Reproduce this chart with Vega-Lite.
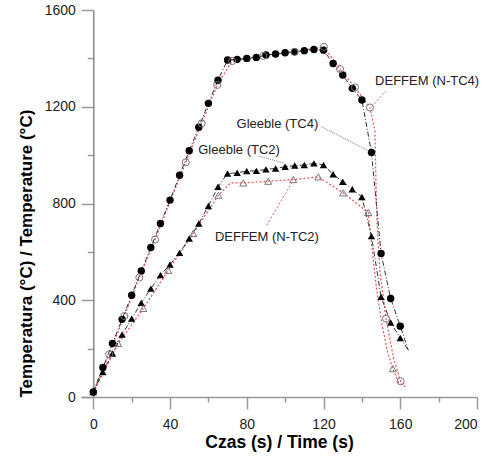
{
  "$schema": "https://vega.github.io/schema/vega-lite/v6.json",
  "width": 396,
  "height": 387,
  "autosize": {"type": "none"},
  "padding": {"left": 81, "top": 10, "right": 13, "bottom": 62},
  "background": "white",
  "config": {"view": {"stroke": null}, "font": "Liberation Sans"},
  "datasets": {
    "series": [
      {"model": "Gleeble", "probe": "TC4", "t": 0, "T": 21, "marker": true},
      {"model": "Gleeble", "probe": "TC4", "t": 5, "T": 122, "marker": true},
      {"model": "Gleeble", "probe": "TC4", "t": 10, "T": 221, "marker": true},
      {"model": "Gleeble", "probe": "TC4", "t": 15, "T": 321, "marker": true},
      {"model": "Gleeble", "probe": "TC4", "t": 20, "T": 421, "marker": true},
      {"model": "Gleeble", "probe": "TC4", "t": 25, "T": 521, "marker": true},
      {"model": "Gleeble", "probe": "TC4", "t": 30, "T": 618, "marker": true},
      {"model": "Gleeble", "probe": "TC4", "t": 35, "T": 717, "marker": true},
      {"model": "Gleeble", "probe": "TC4", "t": 40, "T": 814, "marker": true},
      {"model": "Gleeble", "probe": "TC4", "t": 45, "T": 917, "marker": true},
      {"model": "Gleeble", "probe": "TC4", "t": 50, "T": 1018, "marker": true},
      {"model": "Gleeble", "probe": "TC4", "t": 55, "T": 1115, "marker": true},
      {"model": "Gleeble", "probe": "TC4", "t": 60, "T": 1214, "marker": true},
      {"model": "Gleeble", "probe": "TC4", "t": 65, "T": 1310, "marker": true},
      {"model": "Gleeble", "probe": "TC4", "t": 70, "T": 1393, "marker": true},
      {"model": "Gleeble", "probe": "TC4", "t": 75, "T": 1396, "marker": true},
      {"model": "Gleeble", "probe": "TC4", "t": 80, "T": 1400, "marker": true},
      {"model": "Gleeble", "probe": "TC4", "t": 85, "T": 1404, "marker": true},
      {"model": "Gleeble", "probe": "TC4", "t": 90, "T": 1414, "marker": true},
      {"model": "Gleeble", "probe": "TC4", "t": 95, "T": 1418, "marker": true},
      {"model": "Gleeble", "probe": "TC4", "t": 100, "T": 1423, "marker": true},
      {"model": "Gleeble", "probe": "TC4", "t": 105, "T": 1427, "marker": true},
      {"model": "Gleeble", "probe": "TC4", "t": 110, "T": 1432, "marker": true},
      {"model": "Gleeble", "probe": "TC4", "t": 115, "T": 1437, "marker": true},
      {"model": "Gleeble", "probe": "TC4", "t": 120, "T": 1434, "marker": true},
      {"model": "Gleeble", "probe": "TC4", "t": 125, "T": 1379, "marker": true},
      {"model": "Gleeble", "probe": "TC4", "t": 130, "T": 1331, "marker": true},
      {"model": "Gleeble", "probe": "TC4", "t": 135, "T": 1276, "marker": true},
      {"model": "Gleeble", "probe": "TC4", "t": 140, "T": 1228, "marker": true},
      {"model": "Gleeble", "probe": "TC4", "t": 145, "T": 1011, "marker": true},
      {"model": "Gleeble", "probe": "TC4", "t": 150, "T": 593, "marker": true},
      {"model": "Gleeble", "probe": "TC4", "t": 155, "T": 407, "marker": true},
      {"model": "Gleeble", "probe": "TC4", "t": 160, "T": 293, "marker": true},
      {"model": "Gleeble", "probe": "TC4", "t": 164.2, "T": 193, "marker": false},
      {"model": "Gleeble", "probe": "TC2", "t": 0, "T": 20, "marker": true},
      {"model": "Gleeble", "probe": "TC2", "t": 5, "T": 103, "marker": true},
      {"model": "Gleeble", "probe": "TC2", "t": 10, "T": 180, "marker": true},
      {"model": "Gleeble", "probe": "TC2", "t": 15, "T": 258, "marker": true},
      {"model": "Gleeble", "probe": "TC2", "t": 20, "T": 324, "marker": true},
      {"model": "Gleeble", "probe": "TC2", "t": 25, "T": 389, "marker": true},
      {"model": "Gleeble", "probe": "TC2", "t": 30, "T": 448, "marker": true},
      {"model": "Gleeble", "probe": "TC2", "t": 35, "T": 504, "marker": true},
      {"model": "Gleeble", "probe": "TC2", "t": 40, "T": 548, "marker": true},
      {"model": "Gleeble", "probe": "TC2", "t": 45, "T": 596, "marker": true},
      {"model": "Gleeble", "probe": "TC2", "t": 50, "T": 655, "marker": true},
      {"model": "Gleeble", "probe": "TC2", "t": 55, "T": 717, "marker": true},
      {"model": "Gleeble", "probe": "TC2", "t": 60, "T": 790, "marker": true},
      {"model": "Gleeble", "probe": "TC2", "t": 65, "T": 869, "marker": true},
      {"model": "Gleeble", "probe": "TC2", "t": 70, "T": 924, "marker": true},
      {"model": "Gleeble", "probe": "TC2", "t": 75, "T": 927, "marker": true},
      {"model": "Gleeble", "probe": "TC2", "t": 80, "T": 934, "marker": true},
      {"model": "Gleeble", "probe": "TC2", "t": 85, "T": 935, "marker": true},
      {"model": "Gleeble", "probe": "TC2", "t": 90, "T": 941, "marker": true},
      {"model": "Gleeble", "probe": "TC2", "t": 95, "T": 945, "marker": true},
      {"model": "Gleeble", "probe": "TC2", "t": 100, "T": 952, "marker": true},
      {"model": "Gleeble", "probe": "TC2", "t": 105, "T": 957, "marker": true},
      {"model": "Gleeble", "probe": "TC2", "t": 110, "T": 959, "marker": true},
      {"model": "Gleeble", "probe": "TC2", "t": 115, "T": 966, "marker": true},
      {"model": "Gleeble", "probe": "TC2", "t": 120, "T": 959, "marker": true},
      {"model": "Gleeble", "probe": "TC2", "t": 125, "T": 921, "marker": true},
      {"model": "Gleeble", "probe": "TC2", "t": 130, "T": 890, "marker": true},
      {"model": "Gleeble", "probe": "TC2", "t": 135, "T": 859, "marker": true},
      {"model": "Gleeble", "probe": "TC2", "t": 140, "T": 827, "marker": true},
      {"model": "Gleeble", "probe": "TC2", "t": 145, "T": 665, "marker": true},
      {"model": "Gleeble", "probe": "TC2", "t": 150, "T": 414, "marker": true},
      {"model": "Gleeble", "probe": "TC2", "t": 155, "T": 308, "marker": true},
      {"model": "Gleeble", "probe": "TC2", "t": 160, "T": 244, "marker": true},
      {"model": "Gleeble", "probe": "TC2", "t": 164.2, "T": 193, "marker": false},
      {"model": "DEFFEM", "probe": "N-TC4", "t": 0, "T": 20, "marker": false},
      {"model": "DEFFEM", "probe": "N-TC4", "t": 8.3, "T": 177, "marker": true},
      {"model": "DEFFEM", "probe": "N-TC4", "t": 16.2, "T": 335, "marker": true},
      {"model": "DEFFEM", "probe": "N-TC4", "t": 24.0, "T": 494, "marker": true},
      {"model": "DEFFEM", "probe": "N-TC4", "t": 32.2, "T": 651, "marker": true},
      {"model": "DEFFEM", "probe": "N-TC4", "t": 48.2, "T": 970, "marker": true},
      {"model": "DEFFEM", "probe": "N-TC4", "t": 56.5, "T": 1131, "marker": true},
      {"model": "DEFFEM", "probe": "N-TC4", "t": 64.6, "T": 1290, "marker": true},
      {"model": "DEFFEM", "probe": "N-TC4", "t": 72.4, "T": 1389, "marker": true},
      {"model": "DEFFEM", "probe": "N-TC4", "t": 88.6, "T": 1410, "marker": true},
      {"model": "DEFFEM", "probe": "N-TC4", "t": 104.8, "T": 1427, "marker": true},
      {"model": "DEFFEM", "probe": "N-TC4", "t": 120.2, "T": 1448, "marker": true},
      {"model": "DEFFEM", "probe": "N-TC4", "t": 128.6, "T": 1356, "marker": true},
      {"model": "DEFFEM", "probe": "N-TC4", "t": 136.4, "T": 1280, "marker": true},
      {"model": "DEFFEM", "probe": "N-TC4", "t": 144.2, "T": 1197, "marker": true},
      {"model": "DEFFEM", "probe": "N-TC4", "t": 146.8, "T": 1100, "marker": false},
      {"model": "DEFFEM", "probe": "N-TC4", "t": 147.3, "T": 900, "marker": false},
      {"model": "DEFFEM", "probe": "N-TC4", "t": 148.0, "T": 700, "marker": false},
      {"model": "DEFFEM", "probe": "N-TC4", "t": 149.4, "T": 520, "marker": false},
      {"model": "DEFFEM", "probe": "N-TC4", "t": 152.6, "T": 324, "marker": true},
      {"model": "DEFFEM", "probe": "N-TC4", "t": 156.5, "T": 160, "marker": false},
      {"model": "DEFFEM", "probe": "N-TC4", "t": 160.2, "T": 65, "marker": true},
      {"model": "DEFFEM", "probe": "N-TC4", "t": 163.2, "T": 45, "marker": false},
      {"model": "DEFFEM", "probe": "N-TC2", "t": 0, "T": 20, "marker": false},
      {"model": "DEFFEM", "probe": "N-TC2", "t": 13.0, "T": 221, "marker": true},
      {"model": "DEFFEM", "probe": "N-TC2", "t": 26.1, "T": 366, "marker": true},
      {"model": "DEFFEM", "probe": "N-TC2", "t": 39.1, "T": 524, "marker": true},
      {"model": "DEFFEM", "probe": "N-TC2", "t": 52.1, "T": 676, "marker": true},
      {"model": "DEFFEM", "probe": "N-TC2", "t": 65.2, "T": 834, "marker": true},
      {"model": "DEFFEM", "probe": "N-TC2", "t": 71.5, "T": 885, "marker": false},
      {"model": "DEFFEM", "probe": "N-TC2", "t": 78.2, "T": 885, "marker": true},
      {"model": "DEFFEM", "probe": "N-TC2", "t": 91.2, "T": 892, "marker": true},
      {"model": "DEFFEM", "probe": "N-TC2", "t": 104.2, "T": 899, "marker": true},
      {"model": "DEFFEM", "probe": "N-TC2", "t": 117.3, "T": 910, "marker": true},
      {"model": "DEFFEM", "probe": "N-TC2", "t": 130.3, "T": 844, "marker": true},
      {"model": "DEFFEM", "probe": "N-TC2", "t": 143.3, "T": 763, "marker": true},
      {"model": "DEFFEM", "probe": "N-TC2", "t": 145.5, "T": 600, "marker": false},
      {"model": "DEFFEM", "probe": "N-TC2", "t": 147.6, "T": 450, "marker": false},
      {"model": "DEFFEM", "probe": "N-TC2", "t": 150.5, "T": 300, "marker": false},
      {"model": "DEFFEM", "probe": "N-TC2", "t": 153.3, "T": 190, "marker": false},
      {"model": "DEFFEM", "probe": "N-TC2", "t": 156.1, "T": 117, "marker": true},
      {"model": "DEFFEM", "probe": "N-TC2", "t": 159.0, "T": 62, "marker": false},
      {"model": "DEFFEM", "probe": "N-TC2", "t": 162.5, "T": 42, "marker": false}
    ],
    "labels": [
      {"text": "DEFFEM (N-TC4)", "t": 146.9, "T": 1306},
      {"text": "Gleeble (TC4)", "t": 74.7, "T": 1128},
      {"text": "Gleeble (TC2)", "t": 54.7, "T": 1022},
      {"text": "DEFFEM (N-TC2)", "t": 63.4, "T": 662}
    ],
    "leaders": [
      {"model": "DEFFEM", "t": 145.1, "T": 1200, "t2": 152.5, "T2": 1265},
      {"model": "DEFFEM", "t": 90.4, "T": 710, "t2": 104.2, "T2": 896},
      {"model": "Gleeble", "t": 119.0, "T": 1117, "t2": 145.1, "T2": 1011},
      {"model": "Gleeble", "t": 86.1, "T": 996, "t2": 99.4, "T2": 967}
    ]
  },
  "encoding": {
    "x": {
      "field": "t", "type": "quantitative",
      "scale": {"domain": [-6.4, 200], "nice": false, "zero": false},
      "axis": {
        "title": "Czas (s) / Time (s)",
        "values": [0, 20, 40, 60, 80, 100, 120, 140, 160, 180, 200],
        "labelExpr": "datum.value % 40 === 0 ? datum.label : ''",
        "tickSize": {"condition": {"test": "datum.value % 40 === 0", "value": 12}, "value": 5},
        "tickColor": "#999", "tickWidth": 1.5,
        "domainColor": "#999", "domainWidth": 1.5,
        "labelFontSize": 14, "labelColor": "#222", "labelPadding": 8,
        "labelFont": "Liberation Sans", "titleFont": "Liberation Sans",
        "titleFontSize": 17.5, "titleFontWeight": "bold", "titleColor": "#000",
        "titlePadding": 2, "grid": false
      }
    },
    "y": {
      "field": "T", "type": "quantitative",
      "scale": {"domain": [0, 1600], "nice": false, "zero": false},
      "axis": {
        "title": "Temperatura (°C) / Temperature (°C)",
        "values": [0, 200, 400, 600, 800, 1000, 1200, 1400, 1600],
        "format": "d",
        "labelExpr": "datum.value % 400 === 0 ? datum.label : ''",
        "tickSize": {"condition": {"test": "datum.value % 400 === 0", "value": 12}, "value": 6},
        "offset": -12.3,
        "tickColor": "#999", "tickWidth": 1.5,
        "domainColor": "#888", "domainWidth": 1.5,
        "labelFontSize": 14, "labelColor": "#222", "labelPadding": 6,
        "labelFont": "Liberation Sans", "titleFont": "Liberation Sans",
        "titleFontSize": 17, "titleFontWeight": "bold", "titleColor": "#000",
        "titleAnchor": "start", "titleBaseline": "alphabetic",
        "titleX": -62, "grid": false
      }
    }
  },
  "layer": [
    {
      "data": {"name": "series"},
      "transform": [{"filter": "datum.model === 'DEFFEM'"}],
      "mark": {"type": "line", "color": "#f05050", "strokeWidth": 1.2, "strokeDash": [2, 2]},
      "encoding": {"detail": {"field": "probe"}}
    },
    {
      "data": {"name": "series"},
      "transform": [{"filter": "datum.model === 'Gleeble'"}],
      "mark": {"type": "line", "color": "#333", "strokeWidth": 1, "strokeDash": [5, 2, 1, 2]},
      "encoding": {"detail": {"field": "probe"}}
    },
    {
      "data": {"name": "series"},
      "transform": [{"filter": "datum.model === 'Gleeble' && datum.marker"}],
      "mark": {"type": "point", "filled": true, "color": "#000", "opacity": 1, "size": 55},
      "encoding": {
        "shape": {"field": "probe", "scale": {"domain": ["TC4", "TC2", "N-TC4", "N-TC2"], "range": ["circle", "triangle-up", "circle", "triangle-up"]}, "legend": null}
      }
    },
    {
      "data": {"name": "series"},
      "transform": [{"filter": "datum.model === 'DEFFEM' && datum.marker"}],
      "mark": {"type": "point", "filled": false, "stroke": "#777", "strokeWidth": 1, "opacity": 1, "size": 50},
      "encoding": {
        "shape": {"field": "probe", "scale": {"domain": ["TC4", "TC2", "N-TC4", "N-TC2"], "range": ["circle", "triangle-up", "circle", "triangle-up"]}, "legend": null}
      }
    },
    {
      "data": {"name": "leaders"},
      "transform": [{"filter": "datum.model === 'DEFFEM'"}],
      "mark": {"type": "rule", "color": "#f06060", "strokeWidth": 1, "strokeDash": [2, 2]},
      "encoding": {"x2": {"field": "t2"}, "y2": {"field": "T2"}}
    },
    {
      "data": {"name": "leaders"},
      "transform": [{"filter": "datum.model === 'Gleeble'"}],
      "mark": {"type": "rule", "color": "#555", "strokeWidth": 0.8, "strokeDash": [1, 1]},
      "encoding": {"x2": {"field": "t2"}, "y2": {"field": "T2"}}
    },
    {
      "data": {"name": "labels"},
      "mark": {"type": "text", "align": "left", "baseline": "middle", "fontSize": 13, "font": "Liberation Sans", "color": "#222"},
      "encoding": {"text": {"field": "text"}}
    }
  ]
}
